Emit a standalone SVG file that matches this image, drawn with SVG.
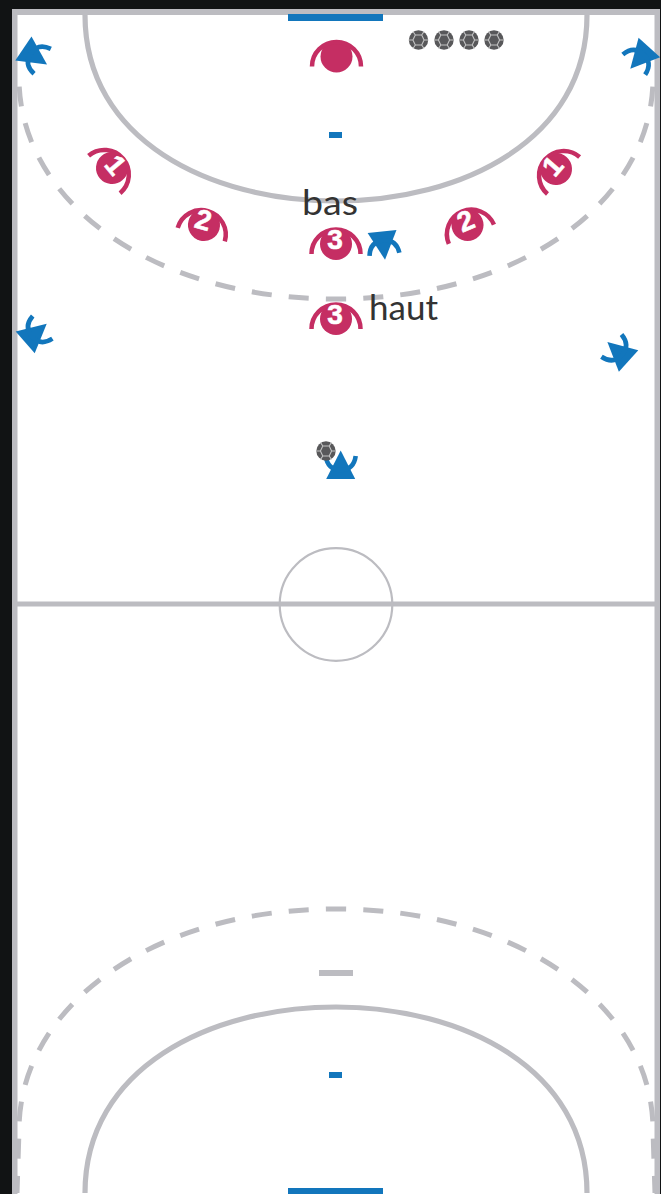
<svg xmlns="http://www.w3.org/2000/svg" width="661" height="1194" viewBox="0 0 661 1194">
<style>
.line{fill:none;stroke:#bcbcc1;stroke-width:5.2}
.dash{fill:none;stroke:#bcbcc1;stroke-width:5;stroke-dasharray:20 17.2;stroke-dashoffset:10}
.grey{fill:#bcbcc1}
.blue{fill:#1276bc}
.num{font-family:"Liberation Sans",Arial,sans-serif;font-weight:700;font-size:28px;fill:#fff;stroke:#fff;stroke-width:.6;text-anchor:middle}
.lab{font-family:Lato,"Open Sans",sans-serif;font-size:35px;font-weight:400;fill:#333}
</style>
<defs>
<g id="pl"><circle r="16" fill="#c52e63"/><path d="M-24.5 10A24.5 24.5 0 0 1 24.5 10" fill="none" stroke="#c52e63" stroke-width="4.5"/></g>
<g id="def"><path d="M0-17.5L14.5 11H-14.5Z" fill="#1276bc"/><path d="M-15-12Q-13 2 0 2Q13 2 15-12" fill="none" stroke="#1276bc" stroke-width="4.6"/></g>
<g id="ball"><circle r="9.7" fill="#58585a"/><path d="M-3.2-5H3.2L5.6 0 3.2 5H-3.2L-5.6 0ZM-3.2-5L-5.5-8.5M3.2-5L5.5-8.5M5.6 0H9.6M3.2 5L5.5 8.5M-3.2 5L-5.5 8.5M-5.6 0H-9.6" fill="none" stroke="#c4c4c4" stroke-width="1.1"/></g>
</defs>
<rect width="661" height="1194" fill="#111314"/>
<rect x="12" y="9" width="648" height="1185" fill="#fff"/>
<g id="court">
<path class="line" d="M85 15C85 140 210 201 336 201S587 140 587 15"/>
<path class="line" d="M85 1193C85 1068 210 1007 336 1007S587 1068 587 1193"/>
<path class="dash" d="M336 299C150 299 19 200 19 78"/>
<path class="dash" d="M336 299C522 299 653 200 653 78"/>
<path class="dash" d="M336 909C150 909 19 1008 19 1130L17 1193"/>
<path class="dash" d="M336 909C522 909 653 1008 653 1130L655 1193"/>
<rect class="grey" x="12" y="9" width="648" height="6"/>
<rect class="grey" x="12" y="9" width="5.5" height="1185"/>
<rect class="grey" x="654.5" y="9" width="5.5" height="1185"/>
<rect class="grey" x="12" y="601.5" width="648" height="5"/>
<circle cx="336" cy="604.5" r="56.3" fill="none" stroke="#bcbcc1" stroke-width="2.2"/>
<rect class="grey" x="319" y="970" width="34" height="6"/>
<rect class="blue" x="288" y="14" width="95" height="7"/>
<rect class="blue" x="288" y="1188" width="95" height="6"/>
<rect class="blue" x="329" y="132" width="13" height="6"/>
<rect class="blue" x="329" y="1072" width="13" height="6"/>
</g>
<g id="balls">
<use href="#ball" x="418.5" y="40"/><use href="#ball" x="444" y="40"/><use href="#ball" x="469" y="40"/><use href="#ball" x="494" y="40"/>
</g>
<g id="gk"><use href="#pl" transform="translate(336.5 56.5)"/></g>
<g id="p1l" transform="translate(112 168) rotate(50)"><use href="#pl"/><text class="num" y="5">1</text></g>
<g id="p2l" transform="translate(204 225) rotate(16)"><use href="#pl"/><text class="num" x="-2" y="5">2</text></g>
<g id="p3a" transform="translate(336 244)"><use href="#pl"/><text class="num" x="-1" y="5">3</text></g>
<g id="p3b" transform="translate(336 319)"><use href="#pl"/><text class="num" x="-1" y="5">3</text></g>
<g id="p2r" transform="translate(467.5 225) rotate(-23)"><use href="#pl"/><text class="num" y="5">2</text></g>
<g id="p1r" transform="translate(556 169) rotate(-49)"><use href="#pl"/><text class="num" y="5">1</text></g>
<g id="d1"><use href="#def" transform="translate(32.5 54.6) rotate(124)"/></g>
<g id="d2"><use href="#def" transform="translate(642 55.7) rotate(222)"/></g>
<g id="d3"><use href="#def" transform="translate(33.5 335.2) rotate(49)"/></g>
<g id="d4"><use href="#def" transform="translate(620.4 353.6) rotate(-48)"/></g>
<g id="d5"><use href="#def" transform="translate(383.2 242.4) rotate(174)"/></g>
<g id="d6"><use href="#def" transform="translate(340.7 468)"/></g>
<g id="ball2"><use href="#ball" x="326" y="451"/></g>
<text class="lab" x="302" y="215" textLength="56" lengthAdjust="spacingAndGlyphs">bas</text>
<text class="lab" x="369" y="320" textLength="69" lengthAdjust="spacingAndGlyphs">haut</text>
</svg>
